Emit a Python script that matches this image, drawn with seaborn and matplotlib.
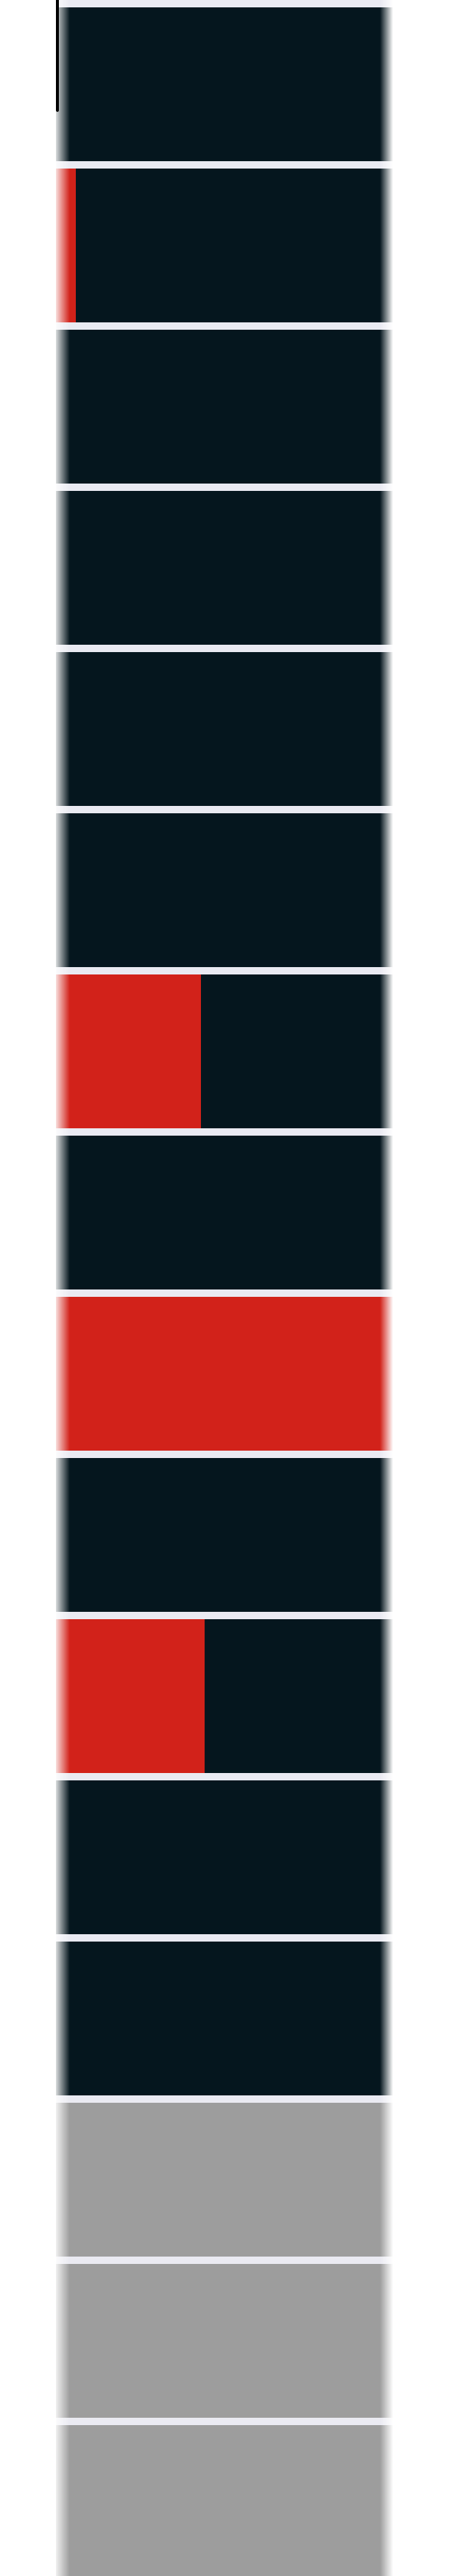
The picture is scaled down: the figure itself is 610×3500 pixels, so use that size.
import numpy as np
import pandas as pd
import seaborn as sns
from matplotlib import pyplot as plt
from matplotlib.lines import Line2D

# one row per category, values as share of 100
rows = [str(i + 1) for i in range(16)]
red_share = [0, 6, 0, 0, 0, 0, 43, 0, 100, 0, 44, 0, 0, 0, 0, 0]
status = ['data'] * 13 + ['none'] * 3
totals = [100] * 16

COLOR_DARK = '#05161e'
COLOR_RED = '#d2221a'
COLOR_GRAY = '#9d9d9d'
COLOR_BG = '#eaeaf2'

df = pd.DataFrame({'row': rows, 'red': red_share, 'total': totals, 'status': status})

sns.set_theme(style="darkgrid")
W, H = 610, 3500
fig = plt.figure(figsize=(W / 100, H / 100), dpi=100)
ax = fig.add_axes([76 / W, 0, (534 - 76) / W, 1])

sns.barplot(data=df, x='total', y='row', hue='status', orient='h', dodge=False,
            palette={'data': COLOR_DARK, 'none': COLOR_GRAY}, saturation=1,
            width=0.954, linewidth=0, legend=False, ax=ax)
sns.barplot(data=df, x='red', y='row', orient='h', color=COLOR_RED, saturation=1,
            width=0.954, linewidth=0, ax=ax)

ax.set_xlim(0, 100)
ax.set_ylim(15.459, -0.523)
ax.set_facecolor(COLOR_BG)
ax.grid(False)
ax.set_xlabel('')
ax.set_ylabel('')
ax.set_xticks([])
ax.set_yticks([])
for s in ax.spines.values():
    s.set_visible(False)

# soft fade on the outer edges
fade_l = np.zeros((1, 64, 4))
fade_l[..., :3] = 1
fade_l[..., 3] = np.linspace(0.85, 0, 64)
axl = fig.add_axes([76 / W, 0, 19 / W, 1], zorder=5)
axl.imshow(fade_l, aspect='auto', interpolation='bilinear')
axl.axis('off')

fade_r = np.zeros((1, 64, 4))
fade_r[..., :3] = 1
fade_r[..., 3] = np.linspace(0, 1, 64)
axr = fig.add_axes([516 / W, 0, 18 / W, 1], zorder=5)
axr.imshow(fade_r, aspect='auto', interpolation='bilinear')
axr.axis('off')

fig.add_artist(Line2D([78 / W, 78 / W], [1, 1 - 150 / H], color='black',
                      linewidth=4 * 72 / 100, zorder=10))

fig.savefig('out.png', dpi=100, facecolor='white')
